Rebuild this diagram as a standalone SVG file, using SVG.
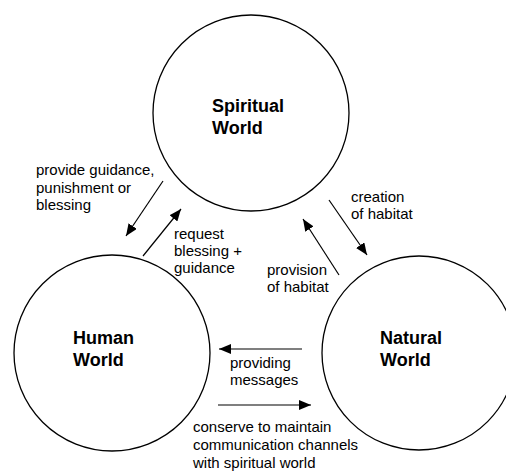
<svg xmlns="http://www.w3.org/2000/svg" width="506" height="471" viewBox="0 0 506 471">
<style>
.c{fill:#fff;stroke:#000;stroke-width:1.3}
.t{font-family:"Liberation Sans",Arial,sans-serif;font-size:18px;font-weight:bold;fill:#000}
.s{font-family:"Liberation Sans",Arial,sans-serif;font-size:15px;fill:#000}
.a{stroke:#000;stroke-width:1.2;fill:none;marker-end:url(#ah)}
</style>
<defs>
<marker id="ah" viewBox="0 0 12 10" refX="12" refY="5" markerWidth="12" markerHeight="10" markerUnits="userSpaceOnUse" orient="auto">
<path d="M0,0 L12,5 L0,10 Z" fill="#000"/>
</marker>
</defs>
<rect width="506" height="471" fill="#fff"/>
<g id="spiritual">
<circle class="c" cx="251" cy="113" r="98"/>
<text class="t" x="212" y="112">Spiritual</text>
<text class="t" x="212" y="134">World</text>
</g>
<g id="human">
<circle class="c" cx="112" cy="353" r="98"/>
<text class="t" x="73" y="344">Human</text>
<text class="t" x="73" y="366">World</text>
</g>
<g id="natural">
<circle class="c" cx="419" cy="353" r="97"/>
<text class="t" x="380" y="344">Natural</text>
<text class="t" x="380" y="366">World</text>
</g>
<g id="connectors">
<line class="a" x1="163" y1="181" x2="126" y2="236"/>
<line class="a" x1="143" y1="256" x2="181" y2="209"/>
<line class="a" x1="329" y1="200" x2="367" y2="255"/>
<line class="a" x1="339" y1="275" x2="303" y2="219"/>
<line class="a" x1="302" y1="349" x2="219" y2="349"/>
<line class="a" x1="218" y1="405" x2="311" y2="405"/>
</g>
<g id="labels">
<text class="s" x="36" y="175">provide guidance,</text>
<text class="s" x="36" y="192.5">punishment or</text>
<text class="s" x="36" y="210">blessing</text>
<text class="s" x="174" y="239">request</text>
<text class="s" x="174" y="256">blessing +</text>
<text class="s" x="174" y="273">guidance</text>
<text class="s" x="351" y="202">creation</text>
<text class="s" x="351" y="219">of habitat</text>
<text class="s" x="267" y="275">provision</text>
<text class="s" x="267" y="292">of habitat</text>
<text class="s" x="230" y="368">providing</text>
<text class="s" x="230" y="385">messages</text>
<text class="s" x="193" y="432">conserve to maintain</text>
<text class="s" x="193" y="450">communication channels</text>
<text class="s" x="193" y="468">with spiritual world</text>
</g>
</svg>
